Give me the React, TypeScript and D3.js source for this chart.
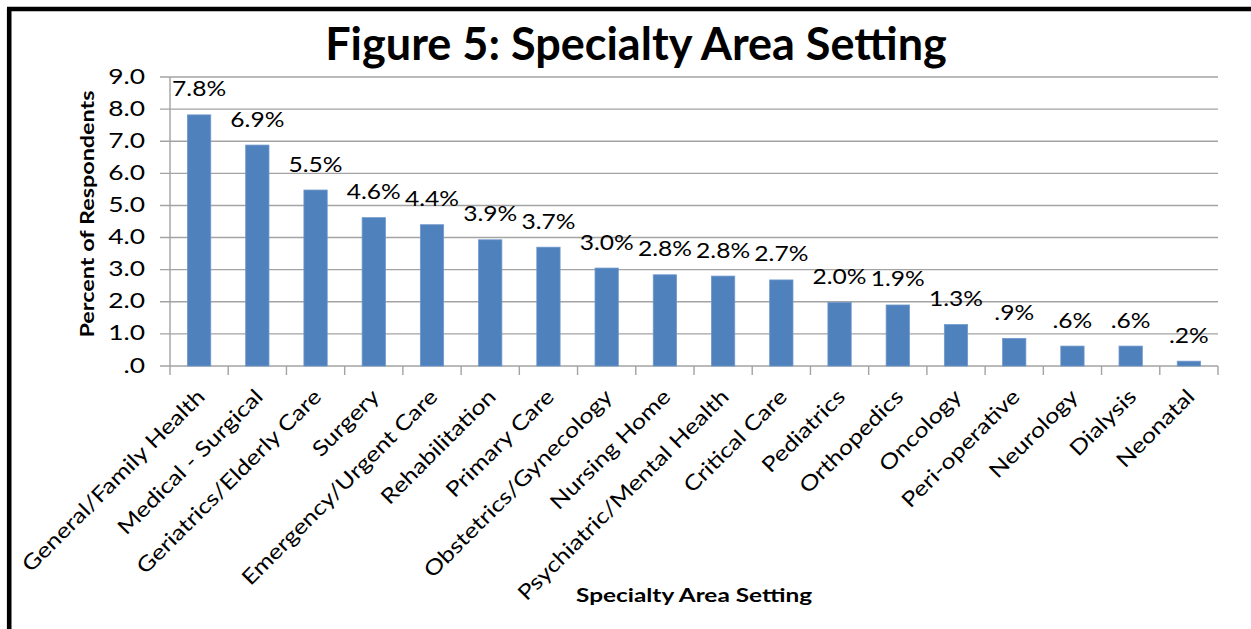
import React from "react";
import * as d3 from "d3";

const categories = [
  "General/Family Health",
  "Medical - Surgical",
  "Geriatrics/Elderly Care",
  "Surgery",
  "Emergency/Urgent Care",
  "Rehabilitation",
  "Primary Care",
  "Obstetrics/Gynecology",
  "Nursing Home",
  "Psychiatric/Mental Health",
  "Critical Care",
  "Pediatrics",
  "Orthopedics",
  "Oncology",
  "Peri-operative",
  "Neurology",
  "Dialysis",
  "Neonatal",
];
const values = [7.82, 6.88, 5.48, 4.62, 4.4, 3.93, 3.7, 3.05, 2.84, 2.8, 2.68, 1.98, 1.9, 1.29, 0.86, 0.62, 0.62, 0.15];
const valueLabels = ["7.8%", "6.9%", "5.5%", "4.6%", "4.4%", "3.9%", "3.7%", "3.0%", "2.8%", "2.8%", "2.7%", "2.0%", "1.9%", "1.3%", ".9%", ".6%", ".6%", ".2%"];
const yTicks = [0, 1, 2, 3, 4, 5, 6, 7, 8, 9];
const yTickLabels = [".0", "1.0", "2.0", "3.0", "4.0", "5.0", "6.0", "7.0", "8.0", "9.0"];

const W = 1251;
const H = 629;
const plot = { left: 170, right: 1218, top: 77, bottom: 366 };
const FONT = "Lato, Carlito, Calibri, sans-serif";

export default function App() {
  const x = d3.scaleBand<string>().domain(categories).range([plot.left, plot.right]).paddingInner(0).paddingOuter(0);
  const y = d3.scaleLinear().domain([0, 9]).range([plot.bottom, plot.top]);
  const bw = x.bandwidth();
  const barW = bw * 0.4;
  const grid = "#A3A3A3";

  return (
    <svg width={W} height={H} style={{ position: "absolute", left: 0, top: 0, background: "#fff" }}>
      <rect x={0} y={0} width={W} height={H} fill="#fff" />
      {/* frame */}
      <line x1={9.2} y1={9} x2={9.2} y2={H + 5} stroke="#000" strokeWidth={4.6} />
      <line x1={7} y1={9} x2={W + 5} y2={9} stroke="#000" strokeWidth={4.6} />

      <text x={636} y={60} textAnchor="middle" fontFamily={FONT} fontWeight={700} fontSize={45} fill="#000">
        Figure 5: Specialty Area Setting
      </text>

      {/* gridlines */}
      {yTicks.map((t, i) => (
        <g key={t}>
          <line x1={plot.left - 10} x2={plot.right} y1={y(t)} y2={y(t)} stroke={grid} strokeWidth={1.4} />
          <text
            transform={`translate(145,${y(t)}) scale(1.2,1)`}
            dy="0.3em"
            textAnchor="end"
            fontFamily={FONT}
            fontSize={22}
            fill="#000"
          >
            {yTickLabels[i]}
          </text>
        </g>
      ))}
      {/* y axis line */}
      <line x1={plot.left} x2={plot.left} y1={plot.top} y2={plot.bottom} stroke={grid} strokeWidth={1.4} />
      {/* x ticks */}
      {categories.concat(["__end"]).map((c, i) => {
        const xx = plot.left + i * bw;
        return <line key={c} x1={xx} x2={xx} y1={plot.bottom} y2={plot.bottom + 9} stroke={grid} strokeWidth={1.4} />;
      })}

      {/* bars */}
      {categories.map((c, i) => {
        const cx = (x(c) as number) + bw / 2;
        return (
          <g key={c}>
            <rect
              x={cx - barW / 2}
              y={y(values[i])}
              width={barW}
              height={plot.bottom - y(values[i])}
              fill="#4F81BD"
              stroke="#6F98CC"
              strokeWidth={0.8}
            />
            <text
              transform={`translate(${cx},${y(values[i]) - 18.5}) scale(1.2,1)`}
              textAnchor="middle"
              fontFamily={FONT}
              fontSize={20.5}
              fill="#000"
            >
              {valueLabels[i]}
            </text>
            <text
              transform={`translate(${cx + 7},${plot.bottom + 32}) rotate(-45) scale(1.2,1)`}
              textAnchor="end"
              fontFamily={FONT}
              fontSize={21}
              fill="#000"
            >
              {c}
            </text>
          </g>
        );
      })}

      <text
        transform={`translate(94,214) rotate(-90) scale(1.2,1)`}
        textAnchor="middle"
        fontFamily={FONT}
        fontWeight={700}
        fontSize={19.5}
        fill="#000"
      >
        Percent of Respondents
      </text>
      <text
        transform={`translate(694,602) scale(1.25,1)`}
        textAnchor="middle"
        fontFamily={FONT}
        fontWeight={700}
        fontSize={19.5}
        fill="#000"
      >
        Specialty Area Setting
      </text>
    </svg>
  );
}
